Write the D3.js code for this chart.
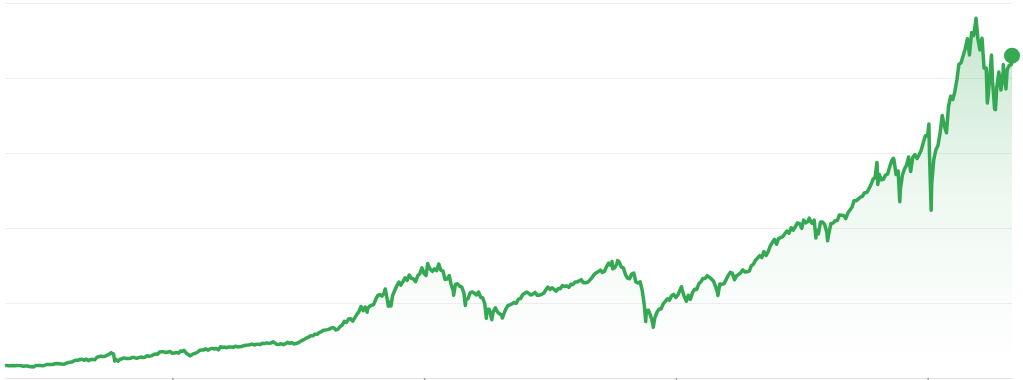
<!DOCTYPE html>
<html>
<head>
<meta charset="utf-8">
<script src="https://cdn.jsdelivr.net/npm/d3@7"></script>
<style>
  body { margin: 0; background: #fff; }
  svg { display: block; }
  .grid line { stroke: #efefef; stroke-width: 1; }
  .grid .domain { display: none; }
  .x-axis .domain { stroke: #e2e2e2; }
  .x-axis .tick line { stroke: #9aa0a6; stroke-width: 1.5; }
</style>
</head>
<body>
<div id="chart"></div>
<script>
// Monthly closes, one row per year, first value = June 1983
const firstMonth = "1983-06";
const monthlyCloses = [
  168, 163, 164, 166, 164, 166, 165,
  163, 157, 159, 160, 151, 153, 151, 167, 166, 166, 164, 167,
  180, 181, 181, 180, 190, 192, 191, 188, 182, 190, 202, 211,
  212, 226, 238, 235, 247, 251, 236, 253, 231, 244, 249, 242,
  274, 284, 291, 288, 290, 304, 318, 330, 321, 252, 230, 247,
  257, 268, 259, 261, 262, 274, 272, 262, 272, 279, 274, 278,
  297, 289, 295, 310, 321, 318, 346, 351, 349, 340, 346, 353,
  329, 332, 340, 331, 361, 358, 356, 323, 306, 304, 322, 330,
  344, 367, 375, 375, 390, 371, 388, 395, 388, 392, 375, 417,
  408, 412, 404, 415, 415, 408, 424, 414, 418, 419, 431, 436,
  439, 443, 452, 440, 450, 451, 448, 464, 459, 468, 462, 466,
  482, 467, 446, 451, 457, 444, 458, 475, 463, 472, 454, 459,
  470, 487, 501, 515, 533, 545, 562, 562, 584, 582, 605, 616,
  636, 640, 645, 654, 669, 671, 640, 652, 687, 705, 757, 741,
  786, 791, 757, 801, 848, 885, 954, 899, 947, 915, 955, 970,
  980, 1049, 1102, 1112, 1091, 1134, 1121, 957, 1017, 1099, 1164, 1229,
  1280, 1238, 1286, 1335, 1302, 1373, 1329, 1320, 1283, 1363, 1389, 1469,
  1394, 1366, 1499, 1452, 1421, 1455, 1431, 1518, 1437, 1429, 1315, 1320,
  1366, 1240, 1160, 1249, 1256, 1224, 1211, 1134, 1041, 1060, 1139, 1148,
  1130, 1107, 1147, 1077, 1067, 990, 912, 916, 815, 886, 936, 880,
  856, 841, 848, 917, 964, 975, 990, 1008, 996, 1051, 1058, 1112,
  1131, 1145, 1126, 1107, 1121, 1141, 1102, 1104, 1115, 1130, 1174, 1212,
  1181, 1204, 1181, 1157, 1192, 1191, 1234, 1220, 1229, 1207, 1249, 1248,
  1280, 1281, 1295, 1311, 1270, 1270, 1277, 1304, 1336, 1378, 1401, 1418,
  1438, 1407, 1421, 1482, 1531, 1503, 1455, 1474, 1527, 1549, 1481, 1468,
  1379, 1331, 1323, 1386, 1400, 1280, 1267, 1283, 1166, 969, 896, 903,
  826, 735, 798, 873, 919, 919, 987, 1021, 1057, 1036, 1096, 1115,
  1074, 1104, 1169, 1187, 1089, 1031, 1102, 1049, 1141, 1183, 1181, 1258,
  1286, 1327, 1326, 1364, 1345, 1321, 1292, 1219, 1131, 1253, 1247, 1258,
  1312, 1366, 1408, 1398, 1310, 1362, 1379, 1407, 1441, 1412, 1416, 1426,
  1498, 1515, 1569, 1598, 1631, 1606, 1686, 1633, 1682, 1757, 1806, 1848,
  1783, 1859, 1872, 1884, 1924, 1960, 1931, 2003, 1972, 2018, 2068, 2059,
  1995, 2105, 2068, 2086, 2107, 2063, 2104, 1972, 1920, 2079, 2080, 2044,
  1940, 1932, 2060, 2065, 2097, 2099, 2174, 2171, 2168, 2126, 2199, 2239,
  2279, 2364, 2363, 2384, 2412, 2423, 2470, 2472, 2519, 2575, 2648, 2674,
  2824, 2714, 2641, 2648, 2705, 2718, 2816, 2902, 2914, 2712, 2760, 2507,
  2704, 2784, 2834, 2946, 2752, 2942, 2980, 2926, 2977, 3038, 3141, 3231,
  3226, 2954, 2585, 2912, 3044, 3100, 3271, 3500, 3363, 3270, 3622, 3756,
  3714, 3811, 3973, 4181, 4204, 4298, 4395, 4523, 4308, 4605, 4567, 4766,
  4516, 4374, 4530, 4132, 4132, 3785, 4130, 3955, 3586, 3872, 4080, 3840,
  4077, 3970, 4109, 4169, 4180
];

// Intra-month highs and lows that show up as spikes in the line
const extremeDates = [
  "1983-06-09", "1984-07-24", "1987-08-25", "1987-10-19", "1987-12-04",
  "1990-07-16", "1990-10-11", "1997-10-27", "1998-07-17", "1998-10-08",
  "2000-03-24", "2000-09-01", "2001-04-04", "2001-09-21", "2002-07-23",
  "2002-10-09", "2003-03-11", "2007-07-19", "2007-10-09", "2008-11-20",
  "2009-03-09", "2010-04-23", "2010-07-02", "2011-10-03", "2015-05-21",
  "2015-08-25", "2016-02-11", "2018-01-26", "2018-02-08", "2018-09-20",
  "2018-12-24", "2020-02-19", "2020-03-23", "2022-01-03", "2022-06-16",
  "2022-08-16", "2022-10-12", "2023-02-02", "2023-03-13", "2023-06-09"
];
const extremeValues = [
  162, 147, 337, 225, 223,
  369, 295, 877, 1187, 959,
  1527, 1521, 1103, 966, 797,
  777, 800, 1553, 1565, 752,
  676, 1217, 1022, 1099, 2131,
  1867, 1829, 2873, 2581, 2930,
  2351, 3386, 2237, 4796, 3667,
  4305, 3577, 4179, 3855, 4298
];

const gridValues = [1000, 2000, 3000, 4000, 5000];
const tickDates = ["1990-02-01", "2000-02-01", "2010-02-01", "2020-02-01"];

const width = 1023;
const height = 380;
const parseDay = d3.timeParse("%Y-%m-%d");
const parseMonth = d3.timeParse("%Y-%m");

// build the series: month-end closes plus the spikes, sorted by date
const start = parseMonth(firstMonth);
const series = monthlyCloses.map((v, i) => ({
  date: d3.timeDay.offset(d3.timeMonth.offset(start, i + 1), -1),
  value: v
}));
extremeDates.forEach((d, i) => series.push({ date: parseDay(d), value: extremeValues[i] }));
series.sort((a, b) => a.date - b.date);

const svg = d3.select("#chart")
  .append("svg")
  .attr("width", width)
  .attr("height", height);

const x = d3.scaleTime()
  .domain(d3.extent(series, d => d.date))
  .range([5, 1012]);

const y = d3.scaleLinear()
  .domain([0, 5000])
  .range([378, 3]);

// gradient under the line, fades out well above the baseline
const grad = svg.append("defs").append("linearGradient")
  .attr("id", "fillGrad")
  .attr("gradientUnits", "userSpaceOnUse")
  .attr("x1", 0).attr("x2", 0)
  .attr("y1", y(4800)).attr("y2", y(0));
grad.append("stop").attr("offset", 0).attr("stop-color", "#34a853").attr("stop-opacity", 0.28);
grad.append("stop").attr("offset", 0.5).attr("stop-color", "#34a853").attr("stop-opacity", 0.08);
grad.append("stop").attr("offset", 0.85).attr("stop-color", "#34a853").attr("stop-opacity", 0.015);
grad.append("stop").attr("offset", 1).attr("stop-color", "#34a853").attr("stop-opacity", 0.0);

// horizontal gridlines
svg.append("g")
  .attr("class", "grid")
  .attr("transform", `translate(${x.range()[0]},0)`)
  .call(d3.axisLeft(y)
    .tickValues(gridValues)
    .tickSize(-(x.range()[1] - x.range()[0]))
    .tickFormat(""));

// bottom axis, tick marks only
svg.append("g")
  .attr("class", "x-axis")
  .attr("transform", `translate(0,${y(0)})`)
  .call(d3.axisBottom(x)
    .tickValues(tickDates.map(parseDay))
    .tickSize(3)
    .tickSizeOuter(0)
    .tickFormat(""));

const area = d3.area()
  .x(d => x(d.date))
  .y0(y(0))
  .y1(d => y(d.value));

svg.append("path")
  .datum(series)
  .attr("fill", "url(#fillGrad)")
  .attr("d", area);

const line = d3.line()
  .x(d => x(d.date))
  .y(d => y(d.value));

svg.append("path")
  .datum(series)
  .attr("fill", "none")
  .attr("stroke", "#34a853")
  .attr("stroke-width", 3.5)
  .attr("stroke-linejoin", "round")
  .attr("d", line);

// last value marker
const last = series[series.length - 1];
svg.append("circle")
  .attr("cx", x(last.date))
  .attr("cy", y(last.value))
  .attr("r", 8)
  .attr("fill", "#34a853");
</script>
</body>
</html>
